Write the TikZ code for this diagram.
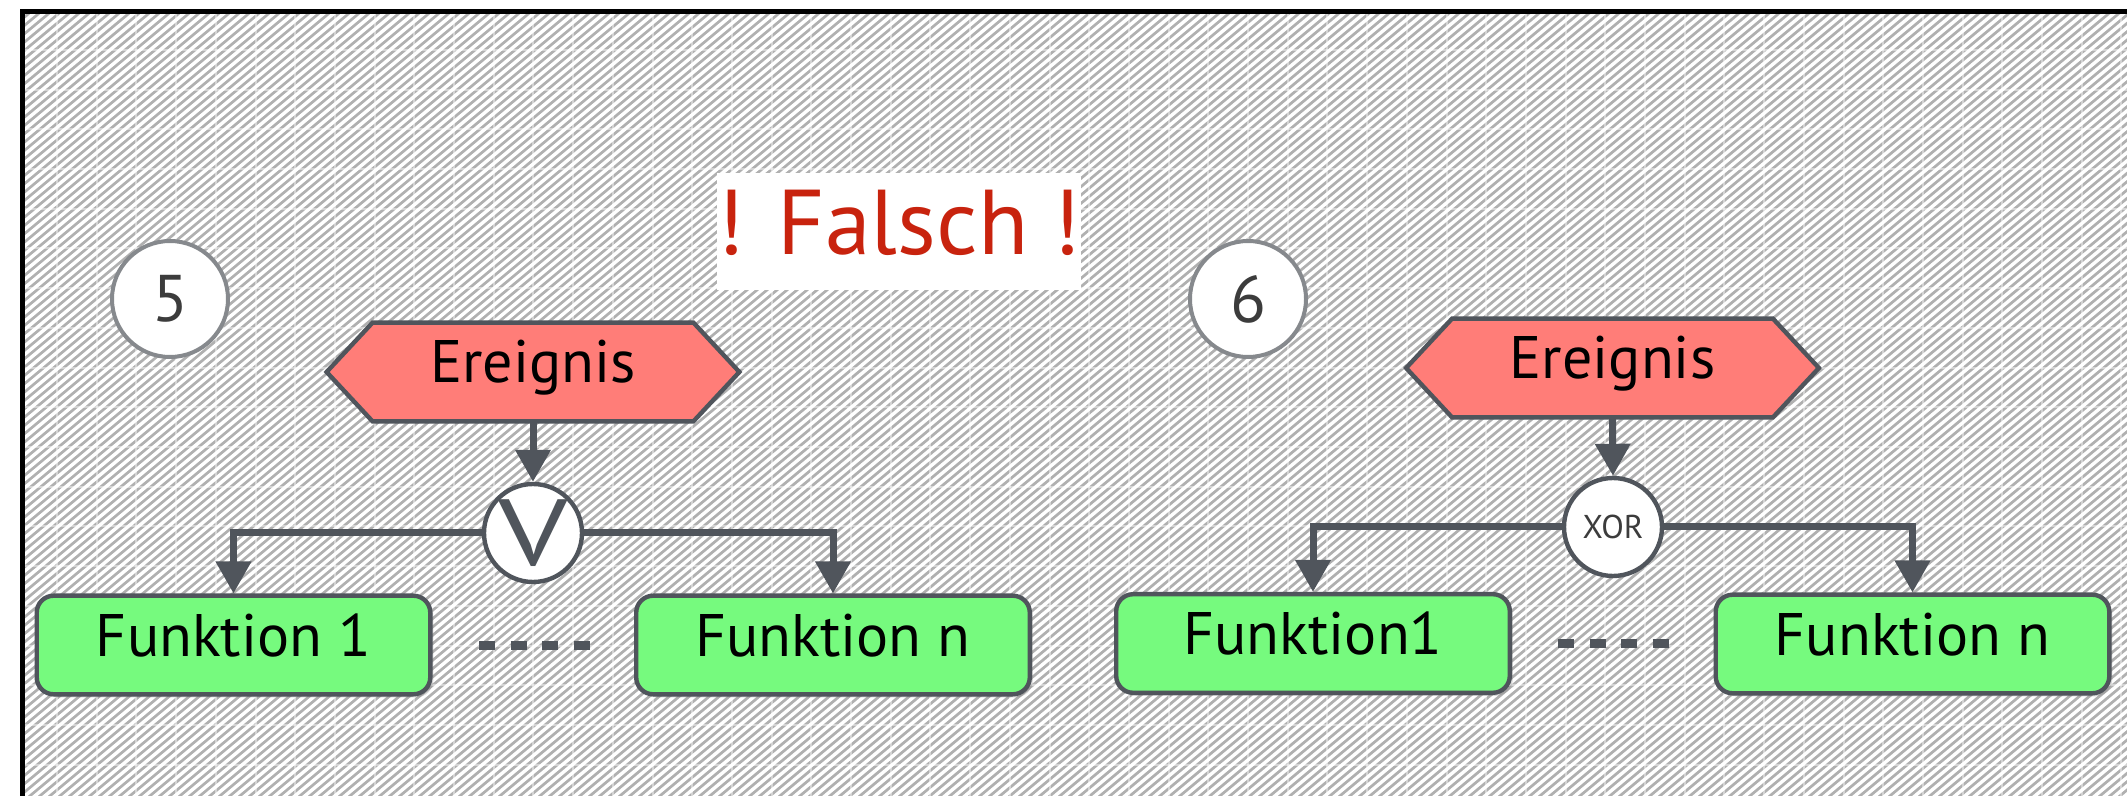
\documentclass[tikz,border=0pt]{standalone}
\usepackage{fontspec}
\setmainfont{PT Sans}
\usetikzlibrary{arrows.meta,shadows,calc}
\pgfdeclarelayer{back}
\pgfdeclarelayer{mid}
\pgfsetlayers{back,mid,main}
\definecolor{edge}{RGB}{80,85,92}
\definecolor{evfill}{RGB}{255,125,120}
\definecolor{fnfill}{RGB}{118,250,126}
\definecolor{numgray}{RGB}{134,137,141}
\definecolor{numtext}{RGB}{60,60,60}
\definecolor{falschred}{RGB}{200,35,14}
\definecolor{stripegray}{RGB}{176,176,176}
\begin{document}
\begin{tikzpicture}[x=0.5pt,y=-0.5pt,
  evnode/.style={inner sep=0pt, minimum width=206pt, minimum height=49pt,
    font=\fontsize{30pt}{36pt}\selectfont, text height=21pt, text depth=10pt},
  hexshape/.style={draw=edge, fill=evfill, line width=2.2pt, line join=miter},
  fnnode/.style={draw=edge, fill=fnfill, line width=2.2pt, rounded corners=8.5pt,
    minimum width=196.8pt, minimum height=49.3pt, inner sep=0pt,
    font=\fontsize{30pt}{36pt}\selectfont, text height=21pt, text depth=10pt,
    drop shadow={opacity=0.3, shadow xshift=1.5pt, shadow yshift=-1.5pt}},
  gate/.style={circle, draw=edge, fill=white, line width=2.2pt, minimum size=49pt, inner sep=0pt},
  gatesym/.style={inner sep=0pt, text=edge, font=\fontsize{47pt}{56pt}\selectfont},
  numcircle/.style={circle, draw=numgray, fill=white, line width=2pt, minimum size=58pt,
    inner sep=0pt, text=numtext, font=\fontsize{33pt}{40pt}\selectfont},
  conn/.style={draw=edge, line width=3.5pt, -{Triangle[width=17pt,length=16pt]}},
  dots/.style={draw=edge, line width=4.5pt, dash pattern=on 8pt off 7.75pt},
  falschbox/.style={fill=white, inner sep=0pt, minimum width=178pt, minimum height=58.5pt,
    text=falschred, font=\fontsize{46pt}{55pt}\selectfont, text height=32pt, text depth=8.5pt}
]
\useasboundingbox (0,0) rectangle (2127,796);
% background
\begin{pgfonlayer}{back}
\fill[white] (0,0) rectangle (2127,796);
\begin{scope}
\clip (22.5,11.5) rectangle (2127,796);
\fill[stripegray] (22.5,11.5) rectangle (2127,796);
\foreach \c in {-960,-950,...,2136} \draw[white, line width=1.7pt] (\c,800) -- ++(960,-800);
\foreach \gx in {57,96.7,...,2127} \draw[white, opacity=0.45, line width=1pt] (\gx,0) -- (\gx,796);
\foreach \gy in {50,89.7,...,796} \draw[white, opacity=0.45, line width=1pt] (0,\gy) -- (2127,\gy);
\end{scope}
\draw[black, line width=2.5pt] (2140,11.5) -- (22.5,11.5) -- (22.5,810);
\end{pgfonlayer}

% labels
\node[numcircle] (n5) at (170,299) {5};
\node[numcircle] (n6) at (1248,299) {6};
\node[falschbox] (falsch) at (899,231.5) {! Falsch !};

% events
\node[evnode] (e5) at (533,372) {Ereignis};
\node[evnode] (e6) at (1612.5,368) {Ereignis};
\begin{pgfonlayer}{mid}
\foreach \e in {e5,e6}
  \draw[hexshape] (\e.west) -- ([xshift=23pt]\e.north west) -- ([xshift=-23pt]\e.north east)
    -- (\e.east) -- ([xshift=-23pt]\e.south east) -- ([xshift=23pt]\e.south west) -- cycle;
\end{pgfonlayer}

% gates
\node[gate] (v5) at (533,533) {};
\node[gatesym] (v5s) at (v5.center) {\scalebox{1.3}[1]{V}};
\node[gate, font=\fontsize{16.5pt}{20pt}\selectfont, text=numtext] (x6) at (1613,527) {XOR};

% functions
\node[fnnode] (f51) at (233.5,645) {Funktion 1};
\node[fnnode] (f5n) at (833,645) {Funktion n};
\node[fnnode] (f61) at (1313,643.5) {Funktion1};
\node[fnnode] (f6n) at (1912.5,644) {Funktion n};

% connectors
\draw[conn] (e5.south) -- (v5.north);
\draw[conn] (v5.west) -| (f51.north);
\draw[conn] (v5.east) -| (f5n.north);
\draw[conn] (e6.south) -- (x6.north);
\draw[conn] (x6.west) -| (f61.north);
\draw[conn] (x6.east) -| (f6n.north);

% ellipsis dashes
\coordinate (d5a) at (479,645);
\coordinate (d5b) at (592,645);
\coordinate (d6a) at (1558,643);
\coordinate (d6b) at (1671,643);
\draw[dots] (d5a) -- (d5b);
\draw[dots] (d6a) -- (d6b);
\end{tikzpicture}
\end{document}
